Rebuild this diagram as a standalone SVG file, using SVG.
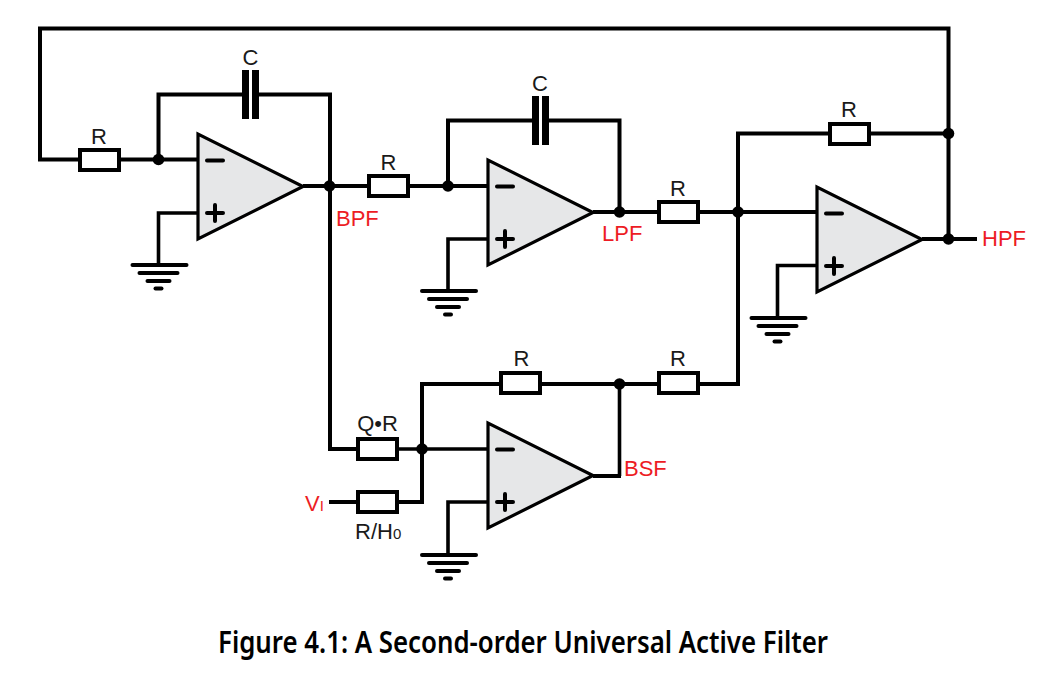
<svg xmlns="http://www.w3.org/2000/svg" xmlns:xlink="http://www.w3.org/1999/xlink" width="1042" height="700" viewBox="0 0 1042 700">
<style>
.w{fill:none;stroke:#000;stroke-width:4;stroke-linejoin:miter}
.n{fill:none;stroke:#000;stroke-width:3.600}
.r{fill:#fff;stroke:#000;stroke-width:4}
.o{fill:#e6e7e8;stroke:#000;stroke-width:3.200}
.s{fill:none;stroke:#000;stroke-width:4;stroke-linecap:round}
.g{fill:none;stroke:#000;stroke-linecap:round;stroke-width:4}
.t{font-family:"Liberation Sans",Arial,sans-serif;font-size:22px;fill:#1a1a1a}
.l{font-family:"Liberation Sans",Arial,sans-serif;font-size:22px;fill:#ed1c24}
.c{font-family:"Noto Sans",sans-serif;font-size:30px;font-weight:600;fill:#000}
</style>
<defs>
<g id="opamp"><path class="o" d="M0 0V105L105 52.500Z"/><path class="s" d="M9 26.500H25M9 79H25M17 71V87"/></g>
<g id="ground"><path class="g" d="M-26 0H28"/><path class="g" d="M-19 8H19"/><path class="g" d="M-11 16H11"/><path class="g" d="M-3 23.500H3"/></g>
<g id="cap"><rect x="0" y="0" width="7" height="49" fill="#000"/><rect x="10" y="0" width="7" height="49" fill="#000"/></g>
<circle id="dot" r="5.800" fill="#000"/>
</defs>
<g id="connectors">
<path class="w" d="M79 159.500H40V28.500H948.500V239"/>
<path class="w" d="M120 159.500H198M158.500 159.500V94.500H242M259 94.500H330V449H357"/>
<path class="n" d="M198 213H158.500V265"/>
<path class="w" d="M303 186H368M409 186H488M448 186V120.500H532M549 120.500H619.500V212"/>
<path class="n" d="M488 239H448V291"/>
<path class="w" d="M593 212H658M699 212H817"/>
<path class="n" d="M817 265.500H777.500V318"/>
<path class="w" d="M922 239H977"/>
<path class="w" d="M829 133.500H738V384H699M870 133.500H948"/>
<path class="w" d="M658 384H541M500 384H422V502H398M357 502H329"/>
<path class="n" d="M398 449H488"/>
<path class="n" d="M619.500 384V476"/>
<path class="w" d="M621 476H593"/>
<path class="n" d="M488 502H448V555"/>
</g>
<g id="opamp1"><use xlink:href="#opamp" x="198" y="134"/></g>
<g id="opamp2"><use xlink:href="#opamp" x="488" y="160"/></g>
<g id="opamp3"><use xlink:href="#opamp" x="817" y="187"/></g>
<g id="opamp4"><use xlink:href="#opamp" x="488" y="423"/></g>
<g id="gnd1"><use xlink:href="#ground" x="158.500" y="265"/></g>
<g id="gnd2"><use xlink:href="#ground" x="448" y="291"/></g>
<g id="gnd3"><use xlink:href="#ground" x="777.500" y="318"/></g>
<g id="gnd4"><use xlink:href="#ground" x="448" y="555"/></g>
<g id="r1"><rect class="r" x="80" y="150" width="39" height="20"/><text class="t" x="99" y="144" text-anchor="middle">R</text></g>
<g id="r2"><rect class="r" x="369" y="176" width="39" height="20"/><text class="t" x="388.500" y="170" text-anchor="middle">R</text></g>
<g id="r3"><rect class="r" x="659" y="202" width="39" height="20"/><text class="t" x="678" y="196" text-anchor="middle">R</text></g>
<g id="r4"><rect class="r" x="830" y="124" width="39" height="20"/><text class="t" x="849" y="117" text-anchor="middle">R</text></g>
<g id="r5"><rect class="r" x="501" y="373" width="39" height="20"/><text class="t" x="521.500" y="366" text-anchor="middle">R</text></g>
<g id="r6"><rect class="r" x="659" y="373" width="39" height="20"/><text class="t" x="678" y="366" text-anchor="middle">R</text></g>
<g id="r7"><rect class="r" x="358" y="439" width="39" height="20"/><text class="t" x="377.500" y="431" text-anchor="middle">Q•R</text></g>
<g id="r8"><rect class="r" x="358" y="492" width="39" height="20"/><text class="t" x="355" y="539">R/H<tspan font-size="15">0</tspan></text></g>
<g id="c1"><use xlink:href="#cap" x="242" y="70"/><text class="t" x="250.500" y="65" text-anchor="middle">C</text></g>
<g id="c2"><use xlink:href="#cap" x="532" y="96"/><text class="t" x="540" y="91" text-anchor="middle">C</text></g>
<g id="dots">
<use xlink:href="#dot" x="158.500" y="159.500"/>
<use xlink:href="#dot" x="329.500" y="186"/>
<use xlink:href="#dot" x="448" y="186"/>
<use xlink:href="#dot" x="619.500" y="212"/>
<use xlink:href="#dot" x="738" y="212"/>
<use xlink:href="#dot" x="948.500" y="133.500"/>
<use xlink:href="#dot" x="948.500" y="239"/>
<use xlink:href="#dot" x="619.500" y="384"/>
<use xlink:href="#dot" x="422" y="449"/>
</g>
<g id="labels">
<text class="l" x="336" y="226">BPF</text>
<text class="l" x="602" y="241">LPF</text>
<text class="l" x="982" y="246">HPF</text>
<text class="l" x="624" y="476">BSF</text>
<text class="l" x="305" y="511">V<tspan font-size="15">I</tspan></text>
</g>
<text id="caption" class="c" x="218" y="653" textLength="610" lengthAdjust="spacingAndGlyphs">Figure 4.1: A Second-order Universal Active Filter</text>
</svg>
